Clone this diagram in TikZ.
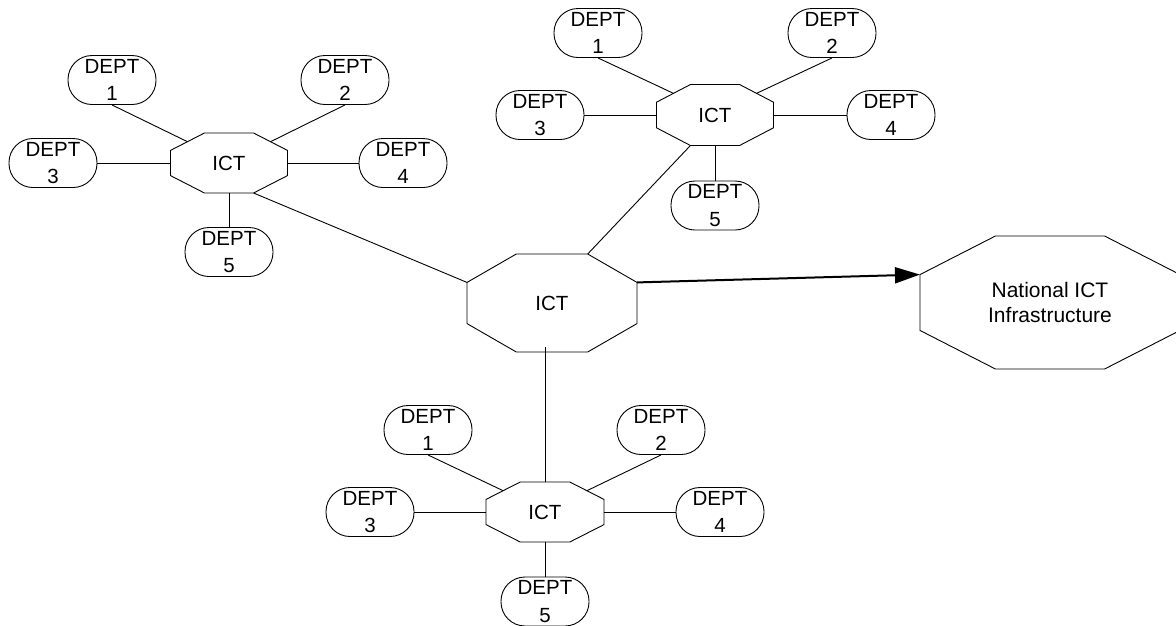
\documentclass[tikz,border=0pt]{standalone}
\usepackage{fontspec}
\setmainfont{Liberation Sans}
\usetikzlibrary{calc,arrows.meta}
\newcommand\mkocto[1]{%
 \coordinate (#1-tl) at ($(#1.north west)!0.29!(#1.north east)$);
 \coordinate (#1-tr) at ($(#1.north east)!0.29!(#1.north west)$);
 \coordinate (#1-rt) at ($(#1.north east)!0.29!(#1.south east)$);
 \coordinate (#1-rb) at ($(#1.south east)!0.29!(#1.north east)$);
 \coordinate (#1-br) at ($(#1.south east)!0.29!(#1.south west)$);
 \coordinate (#1-bl) at ($(#1.south west)!0.29!(#1.south east)$);
 \coordinate (#1-lb) at ($(#1.south west)!0.29!(#1.north west)$);
 \coordinate (#1-lt) at ($(#1.north west)!0.29!(#1.south west)$);
 \coordinate (#1-ul) at ($(#1-lt)!0.5!(#1-tl)$);
 \coordinate (#1-ur) at ($(#1-tr)!0.5!(#1-rt)$);
 \draw[octline] (#1-tl) -- (#1-tr) -- (#1-rt) -- (#1-rb) -- (#1-br) -- (#1-bl) -- (#1-lb) -- (#1-lt) -- cycle;
}
\begin{document}
\begin{tikzpicture}[x=1pt,y=-1pt,
  every path/.style={line width=0.9pt},
  dept/.style={draw, rounded corners=24pt, minimum width=88pt, minimum height=49pt,
    inner sep=0pt, align=center, font=\fontsize{20.5}{27.5}\selectfont},
  octo/.style={draw=none, inner sep=0pt, outer sep=0pt, align=center,
    font=\fontsize{20.5}{27.5}\selectfont},
  octline/.style={draw, line width=0.9pt},
  link/.style={draw, line width=0.9pt},
  bigarrow/.style={draw, line width=2pt, -{Triangle[length=25pt,width=16pt]}}]
\useasboundingbox (0,0) rectangle (1176,625);

% top-left cluster
\node[octo, minimum width=117pt, minimum height=60pt] (a) at (229,163) {ICT};
\node[dept] (a1) at (112,80) {DEPT\\1};
\node[dept] (a2) at (345,80) {DEPT\\2};
\node[dept] (a3) at (53,163) {DEPT\\3};
\node[dept] (a4) at (403,163) {DEPT\\4};
\node[dept] (a5) at (229,252) {DEPT\\5};

% top-right cluster
\node[octo, minimum width=117pt, minimum height=61pt] (b) at (715,115) {ICT};
\node[dept] (b1) at (598,33) {DEPT\\1};
\node[dept] (b2) at (832,33) {DEPT\\2};
\node[dept] (b3) at (540,115) {DEPT\\3};
\node[dept] (b4) at (891,115) {DEPT\\4};
\node[dept] (b5) at (715,205.5) {DEPT\\5};

% bottom cluster
\node[octo, minimum width=118pt, minimum height=60pt] (c) at (545,512) {ICT};
\node[dept] (c1) at (428,430) {DEPT\\1};
\node[dept] (c2) at (661,430) {DEPT\\2};
\node[dept] (c3) at (370,512) {DEPT\\3};
\node[dept] (c4) at (720,512) {DEPT\\4};
\node[dept] (c5) at (545,601.5) {DEPT\\5};

% central and national
\node[octo, minimum width=170pt, minimum height=98pt] (m) at (552,303) {ICT};
\node[octo, minimum width=260pt, minimum height=133pt,
  font=\fontsize{21}{25.5}\selectfont] (n) at (1050,302.5) {National ICT\\Infrastructure};

\mkocto{a}\mkocto{b}\mkocto{c}\mkocto{m}\mkocto{n}

\foreach \k in {a,b,c}{
  \draw[link] (\k1.south) -- (\k-ul);
  \draw[link] (\k2.south) -- (\k-ur);
  \draw[link] (\k3.east) -- (\k.west);
  \draw[link] (\k.east) -- (\k4.west);
  \draw[link] (\k.south) -- (\k5.north);
}

\draw[link] (a-br) -- (m-lt);
\draw[link] (m-tr) -- (b-bl);
\draw[link] (c.north) -- ([yshift=5pt]c.north |- m.south);
\draw[bigarrow] (m-rt) -- (n-lt);
\end{tikzpicture}
\end{document}
